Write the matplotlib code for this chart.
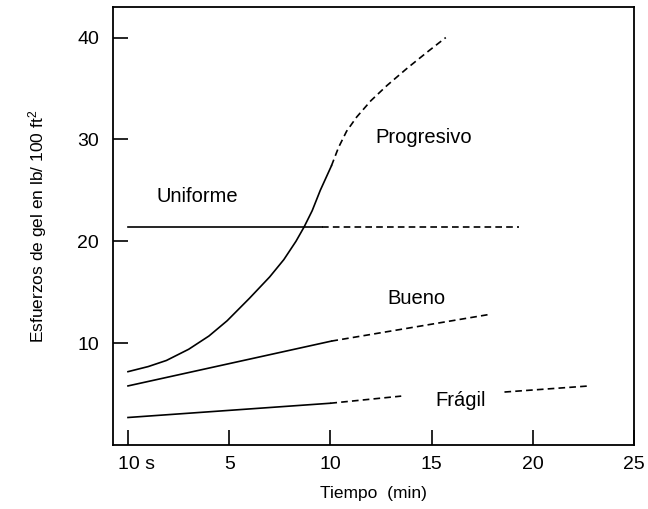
import matplotlib
matplotlib.use("Agg")
import matplotlib.pyplot as plt
import matplotlib.transforms as mtransforms

plt.rcParams["font.family"] = ["Liberation Sans", "DejaVu Sans"]
plt.rcParams["mathtext.fontset"] = "custom"
plt.rcParams["mathtext.rm"] = "Liberation Sans"
plt.rcParams["mathtext.it"] = "Liberation Sans:italic"

# time (min) and gel strength (lb/100 ft2)
prog_solid_x = [0, 1.0, 1.9, 3.0, 4.0, 4.9, 6.0, 7.0, 7.7, 8.3, 8.7, 9.1, 9.5, 10.05]
prog_solid_y = [7.2, 7.7, 8.3, 9.4, 10.7, 12.2, 14.4, 16.5, 18.2, 20.0, 21.4, 23.0, 25.0, 27.4]
prog_dash_x = [10.05, 10.4, 10.8, 11.3, 12.0, 12.8, 13.8, 14.8, 15.7]
prog_dash_y = [27.4, 29.2, 30.8, 32.2, 33.8, 35.3, 37.0, 38.6, 40.0]

unif_solid_x = [0, 9.6]
unif_solid_y = [21.4, 21.4]
unif_dash_x = [9.6, 19.3]
unif_dash_y = [21.4, 21.4]

bueno_solid_x = [0, 10.05]
bueno_solid_y = [5.8, 10.2]
bueno_dash_x = [10.05, 17.8]
bueno_dash_y = [10.2, 12.8]

fragil_solid_x = [0, 10.0]
fragil_solid_y = [2.7, 4.1]
fragil_dash1_x = [10.0, 13.5]
fragil_dash1_y = [4.1, 4.8]
fragil_dash2_x = [18.6, 22.8]
fragil_dash2_y = [5.2, 5.8]

x_ticks = [0, 5, 10, 15, 20, 25]
x_labels = ["10 s", "5", "10", "15", "20", "25"]
y_ticks = [10, 20, 30, 40]

LW = 1.2
DASH = (0, (4, 2.5))

fig = plt.figure(figsize=(6.48, 5.09), dpi=100)
ax = fig.add_axes([113 / 648, 1 - 445 / 509, (634 - 113) / 648, (445 - 7) / 509])

ax.plot(prog_solid_x, prog_solid_y, color="black", lw=LW)
ax.plot(prog_dash_x, prog_dash_y, color="black", lw=LW, linestyle=DASH)
ax.plot(unif_solid_x, unif_solid_y, color="black", lw=LW)
ax.plot(unif_dash_x, unif_dash_y, color="black", lw=LW, linestyle=DASH)
ax.plot(bueno_solid_x, bueno_solid_y, color="black", lw=LW)
ax.plot(bueno_dash_x, bueno_dash_y, color="black", lw=LW, linestyle=DASH)
ax.plot(fragil_solid_x, fragil_solid_y, color="black", lw=LW)
ax.plot(fragil_dash1_x, fragil_dash1_y, color="black", lw=LW, linestyle=DASH)
ax.plot(fragil_dash2_x, fragil_dash2_y, color="black", lw=LW, linestyle=DASH)

fs_note = 14.5
fs_tick = 14
fs_lab = 12.5
ax.text(12.2, 30.2, "Progresivo", fontsize=fs_note, ha="left", va="center")
ax.text(1.4, 24.4, "Uniforme", fontsize=fs_note, ha="left", va="center")
ax.text(14.25, 14.4, "Bueno", fontsize=fs_note, ha="center", va="center")
ax.text(16.45, 4.4, "Frágil", fontsize=fs_note, ha="center", va="center")

ax.set_xlim(-0.74, 25)
ax.set_ylim(0, 43)
ax.set_xticks(x_ticks)
ax.set_xticklabels(x_labels)
ax.set_yticks(y_ticks)
ax.tick_params(direction="in", length=11, width=1.2, labelsize=fs_tick,
               top=False, right=False)
ax.tick_params(axis="x", pad=8)
ax.tick_params(axis="y", pad=10)
for s in ax.spines.values():
    s.set_linewidth(1.3)

# nudge "10 s" to the right like the original
lbl = ax.get_xticklabels()[0]
lbl.set_transform(lbl.get_transform() + mtransforms.ScaledTranslation(9 / 100, 0, fig.dpi_scale_trans))

ax.set_xlabel("Tiempo  (min)", fontsize=fs_lab, labelpad=9)
ax.set_ylabel("Esfuerzos de gel en lb/ 100 ft$^2$", fontsize=fs_lab, labelpad=20)

fig.savefig("out.png", dpi=100)
